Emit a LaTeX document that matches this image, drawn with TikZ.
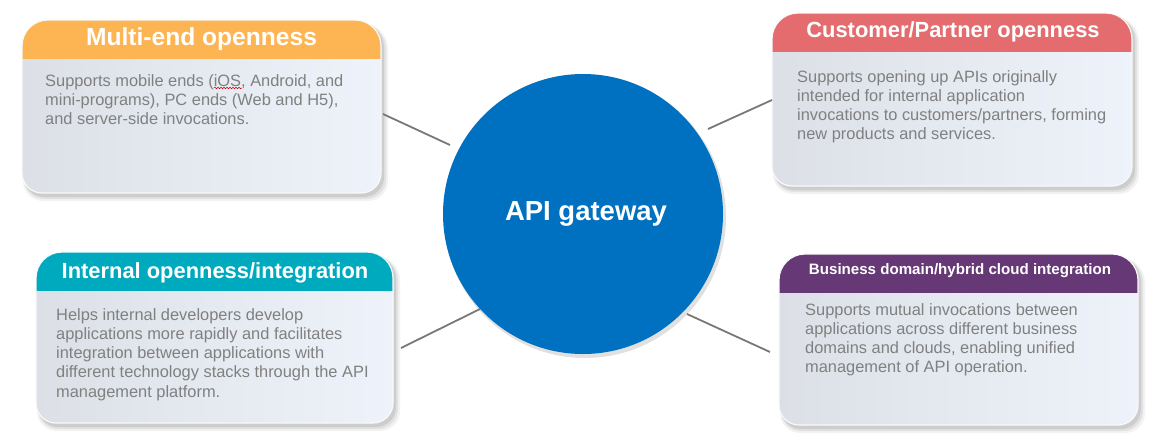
\documentclass[tikz,border=0pt]{standalone}
\usepackage{fontspec}
\setmainfont{Liberation Sans}
\usetikzlibrary{decorations.pathmorphing}
\definecolor{hOrange}{RGB}{253,180,82}
\definecolor{hRed}{RGB}{228,108,110}
\definecolor{hTeal}{RGB}{0,170,190}
\definecolor{hPurple}{RGB}{102,57,118}
\definecolor{gwBlue}{RGB}{0,112,192}
\definecolor{bodyL}{RGB}{220,224,230}
\definecolor{bodyR}{RGB}{238,243,251}
\definecolor{bodyText}{RGB}{128,128,128}
\definecolor{lineGray}{RGB}{120,120,120}
% card outline: top corners 26, bottom corners 20
\newcommand\cardpath[4]{(#1,{(#2+#4)/2}) [rounded corners=26] -- (#1,#2) -- (#3,#2) -- (#3,{(#2+#4)/2}) [rounded corners=20] -- (#3,#4) -- (#1,#4) -- (#1,{(#2+#4)/2}) -- cycle}
\newcommand\cardshape[6]{%
  \fill[black,opacity=0.05] \cardpath{#1+1}{#2+3}{#3+7}{#4+8};
  \fill[black,opacity=0.07] \cardpath{#1+2}{#2+3}{#3+5}{#4+6};
  \fill[black,opacity=0.09] \cardpath{#1+2}{#2+2}{#3+3}{#4+4};
  \begin{scope}
    \clip \cardpath{#1}{#2}{#3}{#4};
    \shade[left color=bodyL, right color=bodyR] (#1,#2) rectangle (#3,#4);
    \fill[#6] (#1,#2) rectangle (#3,#5);
  \end{scope}
  \draw[white!80!bodyL, line width=1.2] \cardpath{#1}{#2}{#3}{#4};
}
\tikzset{
  bodytxt/.style={anchor=north west, inner sep=0pt, align=left, text=bodyText,
    font=\fontsize{16.4}{19.3}\selectfont},
  titletxt/.style={anchor=base, inner sep=0pt, text=white, font=\bfseries\fontsize{#1}{#1}\selectfont},
  conn/.style={draw=lineGray, line width=1.8pt}
}
\begin{document}
\begin{tikzpicture}[x=1pt,y=-1pt]
\useasboundingbox (0,0) rectangle (1157,440);
% cards
\cardshape{22}{20}{381}{193}{59}{hOrange}
\cardshape{772}{13}{1132}{186}{52}{hRed}
\cardshape{36}{252}{393}{423}{291}{hTeal}
\cardshape{779}{254}{1138}{425}{293}{hPurple}
% titles
\node[titletxt=24.6] (t1) at (201.5,45) {Multi-end openness};
\node[titletxt=21.9] (t2) at (953,37) {Customer/Partner openness};
\node[titletxt=21.9] (t3) at (215,278) {Internal openness/integration};
\node[titletxt=15.1] (t4) at (960,274) {Business domain/hybrid cloud integration};
% bodies
\node[bodytxt] (b1) at (45,74) {Supports mobile ends (iOS, Android, and\\mini-programs), PC ends (Web and H5),\\and server-side invocations.};
\node[bodytxt] (b2) at (797,70) {Supports opening up APIs originally\\intended for internal application\\invocations to customers/partners, forming\\new products and services.};
\node[bodytxt] (b3) at (56,308) {Helps internal developers develop\\applications more rapidly and facilitates\\integration between applications with\\different technology stacks through the API\\management platform.};
\node[bodytxt] (b4) at (805,303) {Supports mutual invocations between\\applications across different business\\domains and clouds, enabling unified\\management of API operation.};
% spell-check squiggle
\coordinate (sqa) at (214,88);
\coordinate (sqb) at (242,88);
\draw[red!80!black, line width=0.5pt, decorate, decoration={snake, segment length=3pt, amplitude=0.8pt}] (sqa) -- (sqb);
% circle
\fill[black,opacity=0.12] (585,217) circle (141);
\node[circle, fill=gwBlue, minimum size=280, inner sep=0pt] (gw) at (583,214) {};
\node[anchor=base, inner sep=0pt, text=white, font=\bfseries\fontsize{27.5}{27.5}\selectfont] (gwt) at (586,220) {API gateway};
% connectors
\coordinate (c1a) at (383,114); \coordinate (c1b) at (450,145);
\coordinate (c2a) at (708,129); \coordinate (c2b) at (772,100);
\coordinate (c3a) at (401,348); \coordinate (c3b) at (480,309);
\coordinate (c4a) at (687,314); \coordinate (c4b) at (770,352);
\draw[conn] (c1a) -- (c1b);
\draw[conn] (c2a) -- (c2b);
\draw[conn] (c3a) -- (c3b);
\draw[conn] (c4a) -- (c4b);
\end{tikzpicture}
\end{document}
